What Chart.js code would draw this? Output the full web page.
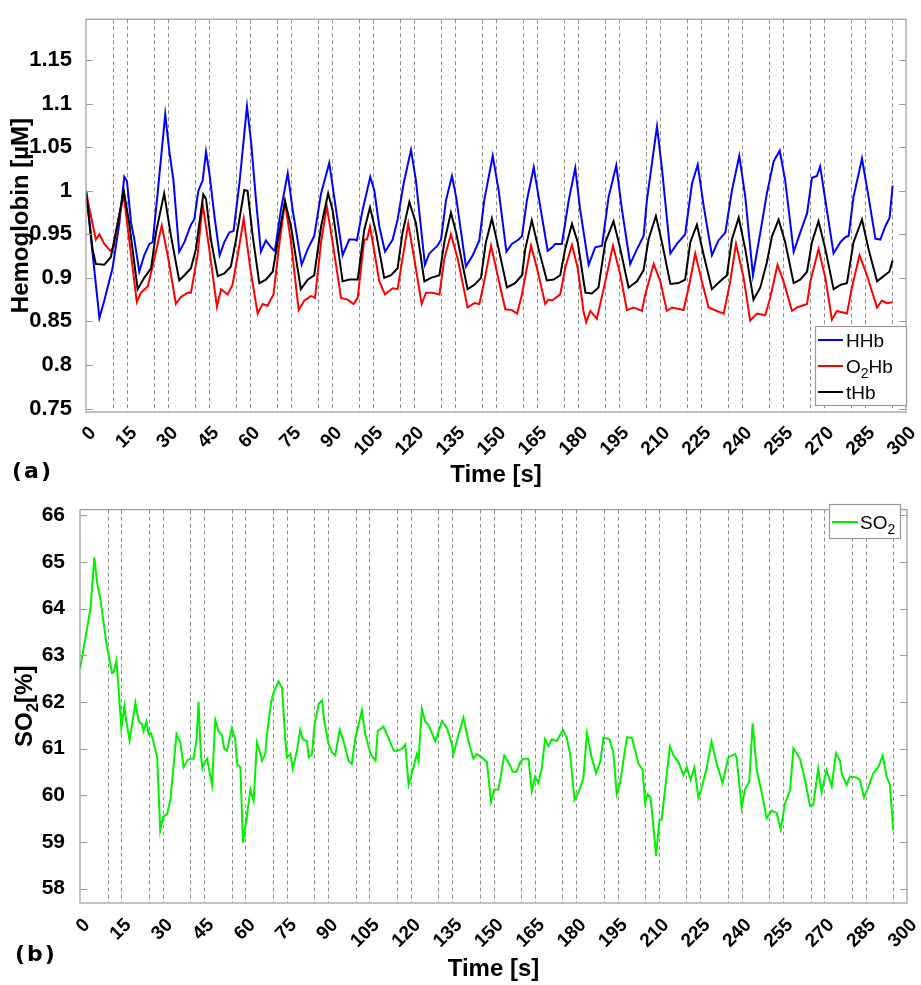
<!DOCTYPE html>
<html>
<head>
<meta charset="utf-8">
<script src="https://cdn.jsdelivr.net/npm/chart.js@4.4.0/dist/chart.umd.min.js"></script>
<style>
  body { margin: 0; background: #fff; width: 921px; height: 985px; position: relative; overflow: hidden; }
  canvas { position: absolute; left: 0; }
  #hbChart { top: 0; }
  #so2Chart { top: 490px; }
  .panel { position: absolute; font: bold 22px "DejaVu Sans", sans-serif; line-height: 1; letter-spacing: 2px; color: #000; }
</style>
</head>
<body>
<canvas id="hbChart" width="921" height="490"></canvas>
<canvas id="so2Chart" width="921" height="495"></canvas>
<div class="panel" style="left:12px; top:460px;">(a)</div>
<div class="panel" style="left:15px; top:943px;">(b)</div>
<script>
// ---- data ----
const timeLabels = [0, 15, 30, 45, 60, 75, 90, 105, 120, 135, 150, 165, 180, 195, 210, 225, 240, 255, 270, 285, 300];
const markerTimes = [10, 15, 25, 30, 40, 45, 55, 60, 70, 75, 85, 90, 100, 105, 115, 120, 130, 135, 145, 150,
  160, 165, 175, 180, 190, 195, 205, 210, 220, 225, 235, 240, 250, 255, 265, 270, 280, 285, 295];

const hbTicks = [0.75, 0.8, 0.85, 0.9, 0.95, 1, 1.05, 1.1, 1.15];
const hbTickLabels = ['0.75', '0.8', '0.85', '0.9', '0.95', '1', '1.05', '1.1', '1.15'];
const so2Ticks = [58, 59, 60, 61, 62, 63, 64, 65, 66];

const hhbTime = [
  0, 4.9, 6.7, 9.7, 12.2, 14, 15, 16.5, 17.7, 19.5,
  21.3, 23.2, 24.4, 26.2, 29, 30.5, 32, 34.1, 36, 38.4,
  39.6, 41.1, 42.7, 43.9, 45.1, 47, 48.9, 50.6, 52.4, 54,
  56.1, 58.9, 60.4, 62.2, 64, 65.8, 67.7, 69.1, 71.3, 73.8,
  75.6, 78.9, 81.1, 83.5, 86, 89, 90.8, 93.9, 96.3, 98.2,
  99.1, 101.2, 104, 105.5, 107.3, 109.4, 112.2, 114, 116.2, 118.9,
  120.7, 124, 125.6, 128.6, 129.9, 131.7, 133.9, 135.4, 139, 141.5,
  143.9, 145.7, 148.8, 151, 153.8, 155.8, 158.3, 159.5, 161.3, 163.8,
  165.6, 168.9, 170.5, 171.7, 174.1, 176.6, 179, 180.8, 183.9, 186.3,
  188.8, 191.2, 194, 196.1, 199.1, 201.6, 204, 205.2, 208.9, 210.7,
  213.8, 216.2, 219.2, 221.7, 223.8, 226, 229, 231.4, 233.9, 236.3,
  239, 241.2, 244, 246.7, 249.1, 251.6, 253.8, 255.8, 258.9, 261.3,
  263.8, 265.6, 267.4, 268.6, 270.5, 273.5, 276, 277.9, 279, 280.8,
  283.9, 286.3, 288.8, 290.6, 292.4, 294, 295.1
];
const hhbValues = [
  1.0, 0.854, 0.874, 0.911, 0.963, 1.016, 1.011, 0.963, 0.944, 0.907,
  0.926, 0.939, 0.941, 0.997, 1.088, 1.045, 1.012, 0.930, 0.941, 0.961,
  0.967, 1.0, 1.012, 1.045, 1.021, 0.971, 0.926, 0.941, 0.952, 0.954,
  1.008, 1.097, 1.056, 0.989, 0.930, 0.943, 0.935, 0.931, 0.978, 1.020,
  0.978, 0.915, 0.933, 0.948, 0.997, 1.032, 0.993, 0.926, 0.944, 0.944,
  0.943, 0.978, 1.016, 1.0, 0.959, 0.930, 0.944, 0.967, 1.008, 1.047,
  1.012, 0.915, 0.928, 0.937, 0.944, 0.989, 1.017, 0.993, 0.913, 0.926,
  0.943, 0.989, 1.040, 1.0, 0.930, 0.939, 0.944, 0.948, 0.989, 1.027,
  0.993, 0.931, 0.935, 0.939, 0.939, 0.989, 1.026, 0.978, 0.915, 0.935,
  0.937, 0.993, 1.029, 0.978, 0.916, 0.933, 0.948, 0.989, 1.074, 1.026,
  0.928, 0.939, 0.950, 1.008, 1.030, 0.982, 0.926, 0.943, 0.952, 1.0,
  1.040, 0.993, 0.903, 0.952, 0.997, 1.034, 1.046, 1.012, 0.930, 0.952,
  0.974, 1.015, 1.017, 1.028, 0.989, 0.928, 0.941, 0.947, 0.948, 0.993,
  1.037, 0.993, 0.945, 0.944, 0.959, 0.969, 1.006
];

const o2hbTime = [
  0, 1.8, 3.6, 4.9, 6.7, 8.9, 10.1, 11.6, 13.8, 15.8,
  18.6, 20.1, 22.6, 25, 27.7, 29.9, 32.9, 34.7, 37.2, 38.4,
  40.8, 42.7, 45.1, 47.9, 49.4, 51.8, 53.6, 55.5, 57.7, 60.1,
  62.8, 64.6, 66.4, 68.6, 70.5, 72.8, 75, 77.8, 79.9, 82.3,
  83.8, 86, 88.1, 90.2, 93.3, 95.7, 97.9, 99.4, 101.8, 102.8,
  103.9, 105.5, 107.3, 109.4, 112.2, 114, 115.8, 117.9, 120.1, 122.8,
  124.4, 126.8, 129.3, 131.1, 133.5, 136, 139.6, 142.1, 143.9, 145.7,
  148.2, 150.3, 153.4, 155.8, 157.7, 159.5, 162.8, 165, 168, 169.2,
  170.5, 173.5, 175.3, 177.8, 179.9, 182, 183, 184.5, 186.9, 190,
  192.8, 195.5, 197.9, 200.3, 203.4, 204.6, 207.7, 210.1, 212.5, 214.4,
  218.6, 220.5, 222.9, 225.3, 227.8, 230.8, 233.3, 235.7, 237.8, 240.6,
  243, 245.5, 248.5, 250.3, 253, 255.2, 258.3, 260.1, 263.8, 265,
  268, 270.5, 272.9, 274.7, 278.4, 280.2, 283, 285.7, 289.4, 291.2,
  293, 295.1
];
const o2hbValues = [
  1.0, 0.971, 0.944, 0.950, 0.939, 0.931, 0.935, 0.963, 0.995, 0.944,
  0.872, 0.883, 0.890, 0.922, 0.960, 0.926, 0.870, 0.878, 0.883, 0.883,
  0.926, 0.985, 0.933, 0.867, 0.887, 0.881, 0.892, 0.926, 0.968, 0.911,
  0.859, 0.870, 0.868, 0.881, 0.933, 0.987, 0.941, 0.863, 0.874, 0.879,
  0.877, 0.941, 0.982, 0.941, 0.877, 0.875, 0.870, 0.877, 0.944, 0.944,
  0.959, 0.930, 0.896, 0.881, 0.888, 0.887, 0.922, 0.962, 0.922, 0.870,
  0.883, 0.883, 0.881, 0.922, 0.950, 0.922, 0.866, 0.871, 0.870, 0.896,
  0.937, 0.907, 0.864, 0.863, 0.859, 0.881, 0.937, 0.911, 0.870, 0.875,
  0.874, 0.881, 0.911, 0.938, 0.911, 0.862, 0.849, 0.862, 0.853, 0.896,
  0.937, 0.903, 0.863, 0.866, 0.862, 0.881, 0.916, 0.896, 0.862, 0.866,
  0.863, 0.889, 0.928, 0.896, 0.866, 0.862, 0.859, 0.896, 0.939, 0.900,
  0.851, 0.859, 0.857, 0.877, 0.915, 0.896, 0.862, 0.866, 0.870, 0.896,
  0.933, 0.900, 0.852, 0.862, 0.859, 0.889, 0.926, 0.903, 0.866, 0.874,
  0.871, 0.872
];

const thbTime = [
  0, 2.4, 3.6, 6.7, 9.1, 11.6, 13.8, 15.8, 18.9, 21.3,
  23.8, 25.6, 28.6, 31.1, 34.1, 36, 38.4, 40.2, 42.9, 43.9,
  45.7, 48.2, 50.6, 53, 54.9, 57.9, 59.1, 61, 63.4, 65.8,
  68.3, 70.1, 72.8, 75, 78.6, 81.1, 83.5, 86, 88.6, 90.2,
  93.9, 96.3, 99.4, 101.8, 103.9, 106.1, 109.1, 111.6, 114, 115.8,
  118.3, 120.7, 123.8, 126.2, 129.3, 131.1, 133.5, 135.4, 139.6, 142.1,
  144.5, 146.3, 148.5, 151, 154, 157, 159.5, 160.7, 163.1, 165.6,
  168.6, 171.1, 173.5, 175.3, 177.8, 179.9, 182.7, 185.1, 187.5, 190,
  193, 195.5, 198.5, 201.6, 204, 205.8, 208.5, 210.7, 213.8, 216.8,
  219.2, 221.1, 223.5, 226, 229, 232, 234.5, 236.3, 238.8, 241.2,
  244.2, 246.7, 249.1, 251, 253.4, 255.8, 258.9, 261.3, 263.8, 265.6,
  268, 270.5, 273.5, 276, 278.4, 280.8, 283.9, 286.3, 289.4, 291.8,
  293.9, 295.1
];
const thbValues = [
  1.0, 0.933, 0.916, 0.915, 0.924, 0.963, 1.0, 0.963, 0.887, 0.900,
  0.911, 0.952, 0.997, 0.948, 0.897, 0.903, 0.911, 0.933, 0.996, 0.991,
  0.944, 0.902, 0.905, 0.913, 0.944, 1.001, 1.0, 0.948, 0.894, 0.898,
  0.907, 0.941, 0.988, 0.959, 0.887, 0.898, 0.903, 0.959, 0.997, 0.978,
  0.896, 0.898, 0.898, 0.955, 0.981, 0.952, 0.900, 0.903, 0.911, 0.952,
  0.987, 0.963, 0.896, 0.900, 0.903, 0.941, 0.975, 0.952, 0.887, 0.892,
  0.900, 0.941, 0.968, 0.933, 0.889, 0.894, 0.903, 0.933, 0.966, 0.933,
  0.897, 0.898, 0.903, 0.933, 0.962, 0.941, 0.883, 0.882, 0.889, 0.941,
  0.965, 0.933, 0.889, 0.896, 0.909, 0.944, 0.971, 0.941, 0.893, 0.894,
  0.898, 0.941, 0.961, 0.926, 0.887, 0.896, 0.903, 0.944, 0.969, 0.933,
  0.875, 0.889, 0.918, 0.948, 0.967, 0.941, 0.894, 0.898, 0.907, 0.941,
  0.965, 0.933, 0.887, 0.892, 0.894, 0.941, 0.967, 0.933, 0.896, 0.902,
  0.907, 0.920
];

const so2Time = [
  0, 3.8, 5.2, 6.2, 7.4, 9.8, 11, 11.6, 12.2, 13.2,
  14, 15, 16.1, 16.8, 18, 20.1, 21.3, 22.5, 23.1, 24.1,
  24.9, 25.8, 26.7, 28, 29.1, 30.1, 31.6, 32.8, 33.8, 35,
  36.4, 37.6, 39, 40, 41.2, 42.3, 43, 43.8, 44.4, 45.2,
  46.1, 47.9, 48.6, 49.1, 50.3, 51.5, 52.3, 53.3, 55.1, 56.3,
  57, 58.2, 59.1, 60.6, 61.8, 63, 64.2, 65.4, 66, 67.2,
  67.8, 69.3, 70.2, 72, 73.3, 74.5, 75.1, 76.3, 77.2, 78.7,
  79.9, 80.8, 82.3, 83, 84.2, 85, 86.6, 87.8, 88.6, 90.2,
  91.4, 92.6, 94.2, 95.6, 97.4, 98.6, 99.9, 102.3, 103.5, 105.4,
  107.2, 108, 110.1, 111.9, 113.8, 115, 116.8, 118, 119.2, 120.4,
  122.2, 122.8, 124, 125.2, 126.4, 128.9, 131.3, 133.1, 134.9, 135.5,
  136.7, 139.1, 140.9, 142.7, 143.9, 145.8, 147.6, 149.1, 150.3, 151.8,
  153.9, 155.4, 157, 158.4, 159.7, 160.9, 162.7, 163.9, 165.1, 166.3,
  167.5, 168.7, 169.9, 171.1, 173, 175.2, 176.6, 177.8, 179.4, 180.8,
  182.6, 183.9, 185.6, 187.2, 188.7, 189.9, 192.1, 193.5, 194.7, 195.9,
  198.4, 200.2, 202.6, 204.1, 205, 205.9, 207, 209, 210.2, 211,
  214, 215.3, 217.1, 218.9, 220.1, 221.5, 222.9, 224.3, 225.5, 227.3,
  229.1, 231, 233.1, 235.2, 237.6, 238.2, 240, 241.2, 242.8, 244,
  245.5, 247.3, 249.1, 250.9, 252.7, 254.2, 255.7, 257.6, 258.8, 261.2,
  263, 264.8, 266, 267.8, 269, 270.8, 272.7, 274.2, 275.7, 276.3,
  278.1, 279.3, 281.7, 282.9, 284.4, 285.9, 287.8, 289.6, 291.2, 292.6,
  293.8, 295
];
const so2Values = [
  62.7, 64.0, 65.1, 64.56, 64.2, 63.17, 62.82, 62.62, 62.63, 62.88,
  62.27, 61.44, 61.91, 61.58, 61.17, 61.98, 61.59, 61.52, 61.37, 61.58,
  61.30, 61.33, 61.13, 60.81, 59.25, 59.53, 59.6, 59.91, 60.54, 61.31,
  61.13, 60.6, 60.75, 60.78, 60.78, 61.2, 62.0, 60.9, 60.57, 60.7,
  60.78, 60.22, 61.09, 61.61, 61.37, 61.28, 61.0, 60.95, 61.44, 61.2,
  60.67, 60.6, 58.98, 59.57, 60.12, 59.88, 61.13, 60.9, 60.74, 60.88,
  61.3, 61.98, 62.2, 62.44, 62.3, 61.16, 60.81, 60.88, 60.57, 60.95,
  61.40, 61.2, 61.16, 60.81, 60.88, 61.48, 61.96, 62.03, 61.58, 61.09,
  60.92, 60.85, 61.40, 61.16, 60.74, 60.67, 61.23, 61.82, 61.3, 60.88,
  60.74, 61.37, 61.47, 61.23, 60.95, 60.95, 60.99, 61.09, 60.22, 60.47,
  60.88, 60.74, 61.85, 61.58, 61.51, 61.16, 61.59, 61.44, 61.1, 60.88,
  61.16, 61.66, 61.16, 60.78, 60.88, 60.81, 60.71, 59.86, 60.12, 60.12,
  60.85, 60.71, 60.5, 60.5, 60.71, 60.78, 60.78, 60.09, 60.4, 60.26,
  60.57, 61.2, 61.05, 61.2, 61.16, 61.40, 61.23, 60.88, 59.9, 60.05,
  60.36, 61.33, 60.81, 60.47, 60.71, 61.23, 61.2, 60.9, 60.02, 60.26,
  61.24, 61.23, 60.67, 60.54, 59.84, 60.02, 59.95, 58.7, 59.46, 59.48,
  61.05, 60.85, 60.71, 60.43, 60.6, 60.33, 60.6, 59.95, 60.16, 60.57,
  61.15, 60.67, 60.26, 60.81, 60.88, 60.81, 59.74, 60.12, 60.29, 61.54,
  60.54, 60.05, 59.51, 59.67, 59.62, 59.27, 59.81, 60.12, 61.0, 60.78,
  60.33, 59.77, 59.79, 60.57, 60.06, 60.54, 60.19, 60.9, 60.74, 60.47,
  60.22, 60.4, 60.38, 60.33, 59.95, 60.16, 60.47, 60.6, 60.85, 60.4,
  60.22, 59.25
];

// ---- helpers ----
const FONT = '"Liberation Sans", Arial, sans-serif';
Chart.defaults.font.family = FONT;
Chart.defaults.color = '#000';

const pts = (xs, ys) => xs.map((x, i) => ({ x, y: ys[i] }));

// text with subscripts, drawn left to right from x on baseline y
function drawParts(ctx, parts, x, y, size, weight) {
  parts.forEach(p => {
    const fs = p.sub ? Math.round(size * 0.72) : size;
    ctx.font = weight + ' ' + fs + 'px ' + FONT;
    ctx.fillText(p.t, x, y + (p.sub ? size * 0.28 : 0));
    x += ctx.measureText(p.t).width;
  });
  return x;
}
function partsWidth(ctx, parts, size, weight) {
  let w = 0;
  parts.forEach(p => {
    const fs = p.sub ? Math.round(size * 0.72) : size;
    ctx.font = weight + ' ' + fs + 'px ' + FONT;
    w += ctx.measureText(p.t).width;
  });
  return w;
}

// frame, dashed markers, rotated time labels, legend (MATLAB look)
function makeFrame(cfg) {
  return {
    id: 'frame',
    beforeDatasetsDraw(chart) {
      const { ctx, chartArea: a, scales: { x } } = chart;
      ctx.save();
      ctx.strokeStyle = '#8e8e8e';
      ctx.lineWidth = 1;
      ctx.setLineDash([4, 3]);
      markerTimes.forEach(t => {
        const px = Math.round(x.getPixelForValue(t)) + 0.5;
        ctx.beginPath();
        ctx.moveTo(px, a.top);
        ctx.lineTo(px, a.bottom);
        ctx.stroke();
      });
      ctx.restore();
    },
    afterDraw(chart) {
      const { ctx, chartArea: a, scales: { x, y } } = chart;
      ctx.save();
      // box
      ctx.strokeStyle = '#9a9a9a';
      ctx.lineWidth = 1.2;
      ctx.strokeRect(a.left, a.top, a.right - a.left, a.bottom - a.top);
      // inward ticks
      y.ticks.forEach(t => {
        const py = Math.round(y.getPixelForValue(t.value)) + 0.5;
        ctx.beginPath();
        ctx.moveTo(a.left, py); ctx.lineTo(a.left + 7, py);
        ctx.moveTo(a.right - 7, py); ctx.lineTo(a.right, py);
        ctx.stroke();
      });
      // rotated time labels
      ctx.fillStyle = '#000';
      ctx.font = 'bold 19px ' + FONT;
      ctx.textAlign = 'right';
      ctx.textBaseline = 'middle';
      timeLabels.forEach(t => {
        const px = x.getPixelForValue(t);
        ctx.save();
        ctx.translate(px + 7, a.bottom + cfg.labelDy);
        ctx.rotate(-Math.PI / 4);
        ctx.fillText(String(t), 0, 0);
        ctx.restore();
      });
      // y title with subscript
      if (cfg.yTitle) {
        ctx.save();
        ctx.textAlign = 'left';
        ctx.textBaseline = 'alphabetic';
        ctx.translate(cfg.yTitle.x, (a.top + a.bottom) / 2);
        ctx.rotate(-Math.PI / 2);
        const w = partsWidth(ctx, cfg.yTitle.parts, 24, 'bold');
        drawParts(ctx, cfg.yTitle.parts, -w / 2, 0, 24, 'bold');
        ctx.restore();
      }
      // legend
      const L = cfg.legend;
      ctx.fillStyle = '#fff';
      ctx.fillRect(L.x, L.y, L.w, L.h);
      ctx.strokeStyle = '#9a9a9a';
      ctx.lineWidth = 1.2;
      ctx.strokeRect(L.x + 0.5, L.y + 0.5, L.w, L.h);
      ctx.textAlign = 'left';
      ctx.textBaseline = 'alphabetic';
      L.items.forEach((it, i) => {
        const ey = L.rows[i];
        ctx.strokeStyle = it.color;
        ctx.lineWidth = 2;
        ctx.beginPath();
        ctx.moveTo(L.lineX[0], ey); ctx.lineTo(L.lineX[1], ey);
        ctx.stroke();
        ctx.fillStyle = '#000';
        drawParts(ctx, it.parts, L.textX, ey + 7, 19, 'normal');
      });
      ctx.restore();
    }
  };
}

const commonX = (height, padBottom) => ({
  type: 'linear', min: 0, max: 300,
  grid: { display: false }, border: { display: false },
  ticks: { display: false },
  title: { display: true, text: 'Time [s]', color: '#000',
    font: { size: 24, weight: 'bold' }, padding: { top: 0, bottom: padBottom } },
  afterFit: s => { s.height = height; }
});

// ---- (a) hemoglobin ----
new Chart(document.getElementById('hbChart'), {
  type: 'line',
  data: {
    datasets: [
      { label: 'HHb', data: pts(hhbTime, hhbValues), borderColor: '#0000ff', order: 2 },
      { label: 'O2Hb', data: pts(o2hbTime, o2hbValues), borderColor: '#ff0000', order: 1 },
      { label: 'tHb', data: pts(thbTime, thbValues), borderColor: '#000000', order: 0 }
    ]
  },
  options: {
    responsive: false, animation: false, devicePixelRatio: 1,
    layout: { padding: { left: 0, right: 15, top: 11, bottom: 0 } },
    elements: { point: { radius: 0 }, line: { borderWidth: 2, tension: 0 } },
    plugins: { legend: { display: false }, tooltip: { enabled: false } },
    scales: {
      x: commonX(78, 0),
      y: {
        min: 0.746, max: 1.197,
        grid: { display: false }, border: { display: false },
        afterBuildTicks: s => { s.ticks = hbTicks.map(v => ({ value: v })); },
        ticks: { color: '#000', padding: 6, font: { size: 22, weight: 'bold' },
          callback: (v, i) => hbTickLabels[i] },
        title: { display: true, text: 'Hemoglobin [µM]', color: '#000',
          font: { size: 24, weight: 'bold' }, padding: { top: 7, bottom: 0 } },
        afterFit: s => { s.width = 86; }
      }
    }
  },
  plugins: [makeFrame({
    labelDy: 18,
    legend: {
      x: 815, y: 326, w: 91, h: 79, rows: [340, 366, 392], lineX: [818, 843], textX: 846,
      items: [
        { color: '#0000ff', parts: [{ t: 'HHb' }] },
        { color: '#ff0000', parts: [{ t: 'O' }, { t: '2', sub: true }, { t: 'Hb' }] },
        { color: '#000000', parts: [{ t: 'tHb' }] }
      ]
    }
  })]
});

// ---- (b) oxygen saturation ----
new Chart(document.getElementById('so2Chart'), {
  type: 'line',
  data: {
    datasets: [
      { label: 'SO2', data: pts(so2Time, so2Values), borderColor: '#00f000' }
    ]
  },
  options: {
    responsive: false, animation: false, devicePixelRatio: 1,
    layout: { padding: { left: 0, right: 14, top: 7, bottom: 0 } },
    elements: { point: { radius: 0 }, line: { borderWidth: 2, tension: 0 } },
    plugins: { legend: { display: false }, tooltip: { enabled: false } },
    scales: {
      x: commonX(82, 1),
      y: {
        min: 57.69, max: 66.12,
        grid: { display: false }, border: { display: false },
        afterBuildTicks: s => { s.ticks = so2Ticks.map(v => ({ value: v })); },
        ticks: { color: '#000', padding: 7, font: { size: 21, weight: 'bold' },
          callback: (v, i) => String(so2Ticks[i]) },
        afterFit: s => { s.width = 80; }
      }
    }
  },
  plugins: [makeFrame({
    labelDy: 19,
    yTitle: { x: 31.5, parts: [{ t: 'SO' }, { t: '2', sub: true }, { t: '[%]' }] },
    legend: {
      x: 829, y: 14, w: 71, h: 34, rows: [32], lineX: [832, 858], textX: 860,
      items: [
        { color: '#00f000', parts: [{ t: 'SO' }, { t: '2', sub: true }] }
      ]
    }
  })]
});
</script>
</body>
</html>
